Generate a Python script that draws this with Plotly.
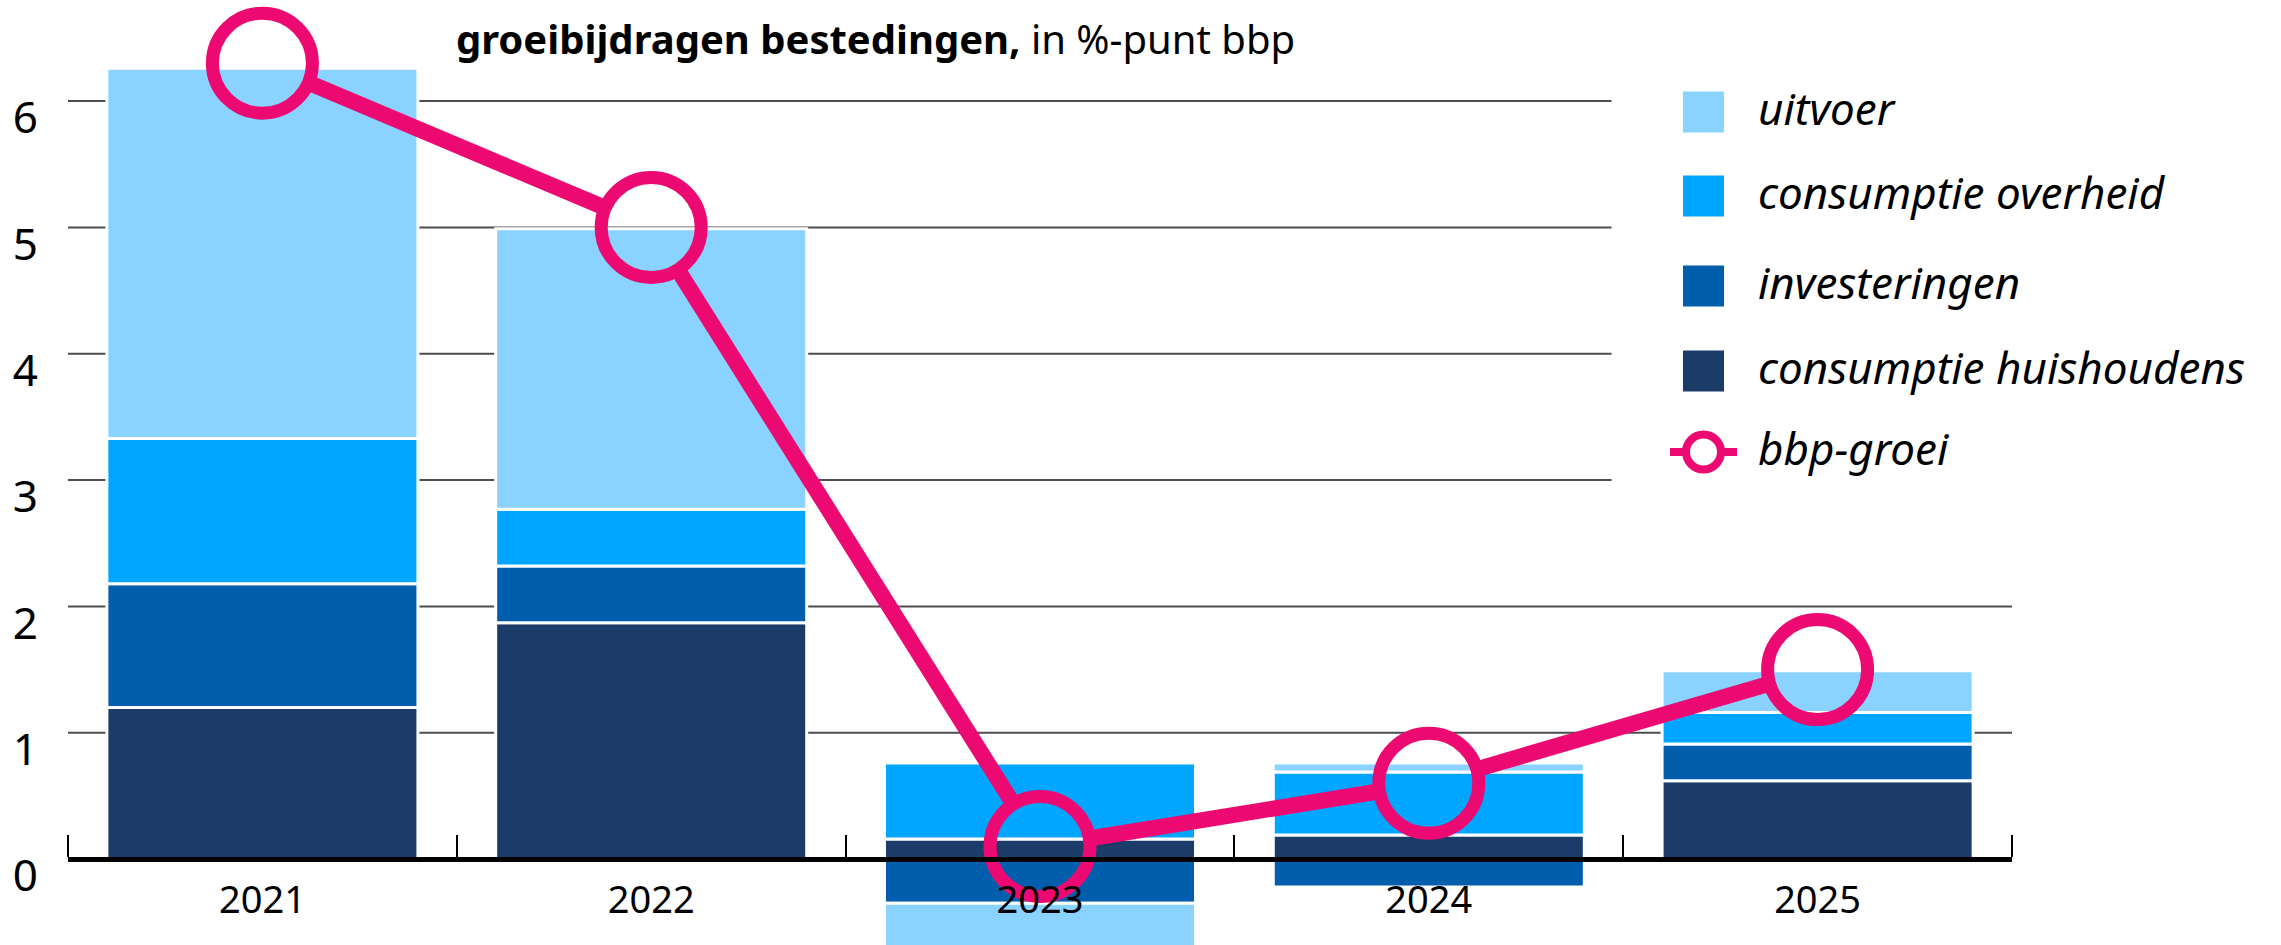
import plotly.graph_objects as go

# data, %-punt bbp
years = ['2021', '2022', '2023', '2024', '2025']
huishoudens = [1.20, 1.87, 0.16, 0.19, 0.62]
investeringen = [0.98, 0.45, -0.35, -0.22, 0.29]
overheid = [1.15, 0.45, 0.60, 0.50, 0.25]
uitvoer = [2.93, 2.22, -0.40, 0.07, 0.33]
bbp = [6.3, 5.0, 0.1, 0.6, 1.5]

series = [
    ('consumptie huishoudens', huishoudens, '#1B3B68'),
    ('investeringen', investeringen, '#005EAD'),
    ('consumptie overheid', overheid, '#00A6FF'),
    ('uitvoer', uitvoer, '#8AD2FF'),
]
PINK = '#EC0A72'
FONT = 'Noto Sans'

W, H = 2281, 945
ML, MR, MT, MB = 68, 269, 0, 0
Y_MIN, Y_MAX = -0.68, 6.80
X_MIN, X_MAX = -0.5, len(years) - 0.5
PLOT_W, PLOT_H = W - ML - MR, H - MT - MB
PX_X = PLOT_W / (X_MAX - X_MIN)
PX_Y = PLOT_H / (Y_MAX - Y_MIN)

xs = list(range(len(years)))

fig = go.Figure()

for name, vals, col in series:
    fig.add_trace(go.Bar(
        x=xs, y=vals, name=name, marker_color=col,
        marker_line=dict(color='white', width=3),
        showlegend=False,
    ))

# line segments stop at the rim of the open circles
R = 48
lx, ly = [], []
for i in range(len(bbp) - 1):
    dx = 1 * PX_X
    dy = (bbp[i + 1] - bbp[i]) * PX_Y
    L = (dx ** 2 + dy ** 2) ** 0.5
    f = R / L
    lx += [xs[i] + f, xs[i + 1] - f, None]
    ly += [bbp[i] + f * (bbp[i + 1] - bbp[i]), bbp[i + 1] - f * (bbp[i + 1] - bbp[i]), None]

fig.add_trace(go.Scatter(x=lx, y=ly, mode='lines', line=dict(color=PINK, width=16),
                         showlegend=False, hoverinfo='skip', cliponaxis=False))
fig.add_trace(go.Scatter(
    x=xs, y=bbp, mode='markers', name='bbp-groei',
    marker=dict(symbol='circle-open', size=100, color=PINK, line=dict(color=PINK, width=13)),
    showlegend=False, cliponaxis=False,
))


def px(x):
    return (x - ML) / PLOT_W


def py(y):
    return (H - MB - y) / PLOT_H


shapes = []
# gridlines
for v in range(1, 7):
    shapes.append(dict(type='line', xref='paper', yref='y', x0=0, x1=(0.794 if v >= 3 else 1),
                       y0=v, y1=v, line=dict(color='#4d4d4d', width=2), layer='below'))

# legend
leg_y = [112, 196, 286, 371]
annotations = []
for (name, vals, col), yc in zip(reversed(series), leg_y):
    shapes.append(dict(type='rect', xref='paper', yref='paper',
                       x0=px(1683), x1=px(1724), y0=py(yc - 20.5), y1=py(yc + 20.5),
                       fillcolor=col, line=dict(width=0)))
    annotations.append(dict(text='<i>' + name + '</i>', xref='paper', yref='paper',
                            x=px(1756), y=py(yc - 4), xanchor='left', yanchor='middle',
                            showarrow=False, font=dict(family=FONT, size=44, color='black')))
yb = 452
shapes.append(dict(type='line', xref='paper', yref='paper', x0=px(1670), x1=px(1737),
                   y0=py(yb), y1=py(yb), line=dict(color=PINK, width=8)))
shapes.append(dict(type='circle', xref='paper', yref='paper', x0=px(1686), x1=px(1721),
                   y0=py(yb + 17.5), y1=py(yb - 17.5), fillcolor='white',
                   line=dict(color=PINK, width=8)))
annotations.append(dict(text='<i>bbp-groei</i>', xref='paper', yref='paper',
                        x=px(1756), y=py(yb - 4), xanchor='left', yanchor='middle',
                        showarrow=False, font=dict(family=FONT, size=44, color='black')))

# title
annotations.append(dict(text='<b>groeibijdragen bestedingen,</b> in %-punt bbp',
                        xref='paper', yref='paper', x=px(454), y=py(38),
                        xanchor='left', yanchor='middle', showarrow=False,
                        font=dict(family=FONT, size=40, color='black')))

fig.update_layout(
    width=W, height=H,
    margin=dict(l=ML, r=MR, t=MT, b=MB, pad=0),
    barmode='relative', bargap=0.2,
    plot_bgcolor='white', paper_bgcolor='white',
    font=dict(family=FONT, color='black'),
    shapes=shapes, annotations=annotations,
    xaxis=dict(
        range=[X_MIN, X_MAX], tickvals=xs, ticktext=years,
        anchor='free', position=(0 - Y_MIN) / (Y_MAX - Y_MIN),
        showline=True, linecolor='black', linewidth=5,
        ticks='', showgrid=False, zeroline=False,
        tickfont=dict(size=38, color='black'), ticklabelstandoff=5,
        minor=dict(tickmode='array', tickvals=[i - 0.5 for i in range(len(years) + 1)],
                   ticks='inside', ticklen=22, tickwidth=2, tickcolor='black', showgrid=False),
    ),
    yaxis=dict(
        range=[Y_MIN, Y_MAX], tickvals=list(range(7)),
        showgrid=False, zeroline=False, showline=False, ticks='',
        tickfont=dict(size=44, color='black'), ticklabelshift=17, ticklabelstandoff=29,
    ),
)

fig.write_html("out.html", config={'displayModeBar': False},
               post_script="document.body.style.margin='0';")
